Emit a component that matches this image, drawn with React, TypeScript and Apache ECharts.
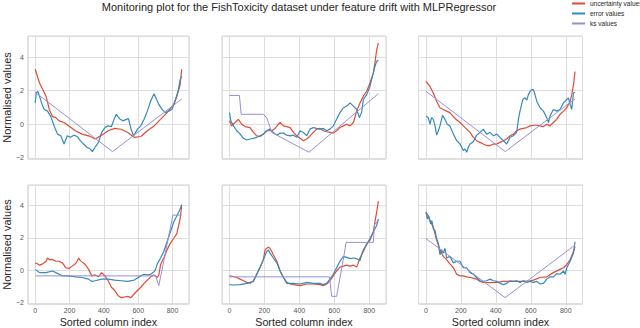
import React, { useEffect, useRef } from 'react';
import * as echarts from 'echarts';

const TITLE = 'Monitoring plot for the FishToxicity dataset under feature drift with MLPRegressor';
const SERIES_NAMES = ['uncertainty values', 'error values', 'ks values'];
const COLORS = ['#E24A33', '#348ABD', '#988ED5'];
const X_LABEL = 'Sorted column index';
const Y_LABEL = 'Normalised values';
const X_MIN = -42.65;
const X_MAX = 895.65;
const Y_MIN = -2.07;
const Y_MAX = 5.25;

type P = [number, number][];

// top-left
const tlUnc: P = [[0,3.27],[25,2.45],[44,2.06],[63,1.67],[82,0.88],[101,0.45],[120,0.39],[139,0.2],[168,0.1],[196,-0.1],[234,-0.39],[272,-0.59],[311,-0.69],[349,-0.88],[387,-0.65],[425,-0.39],[463,-0.25],[501,-0.3],[539,-0.49],[577,-0.78],[615,-0.73],[653,-0.39],[692,-0.1],[730,0.29],[768,0.69],[806,1.18],[825,1.67],[844,2.35],[853,3.27]];
const tlErr: P = [[0,1.27],[6,1.86],[15,1.96],[25,1.67],[40,1.18],[53,0.88],[72,0.78],[91,0.45],[110,-0.1],[130,-0.59],[149,-0.69],[168,-1.18],[187,-0.69],[206,-0.78],[225,-0.65],[244,-0.73],[263,-0.98],[282,-1.18],[301,-1.37],[320,-1.47],[333,-1.63],[349,-1.37],[368,-1.08],[387,-0.49],[406,-0.2],[425,-0.1],[444,-0.14],[463,0.39],[472,0.59],[491,0.33],[511,0.2],[530,0.29],[543,0.33],[558,-0.29],[573,-0.69],[596,-0.29],[615,-0.1],[634,0.29],[653,0.78],[672,1.37],[692,1.82],[707,1.47],[720,1.18],[739,0.88],[758,0.69],[777,0.78],[796,0.88],[815,1.37],[834,2.06],[844,2.65],[853,2.84]];
const tlKs: P = [[0,1.9],[450,-1.63],[853,1.5]];

// top-middle
const tmUnc: P = [[0,0.2],[13,-0.1],[32,0.1],[51,0.29],[70,0],[90,-0.14],[118,-0.2],[137,-0.49],[156,-0.69],[175,-0.73],[194,-0.59],[213,-0.39],[242,-0.39],[261,-0.25],[280,0],[290,0.1],[309,-0.1],[328,-0.14],[347,-0.2],[366,-0.49],[385,-0.69],[404,-0.84],[423,-0.98],[442,-0.88],[461,-0.69],[480,-0.49],[499,-0.29],[518,-0.25],[537,-0.39],[556,-0.45],[575,-0.49],[594,-0.53],[613,-0.39],[632,-0.2],[652,-0.1],[671,0],[690,-0.1],[709,0.1],[728,0.78],[747,1.27],[766,1.67],[785,1.96],[804,2.45],[823,3.04],[832,3.63],[842,4.41],[852,4.84]];
const tmErr: P = [[0,0.69],[8,0.2],[23,-0.1],[42,-0.39],[61,-0.59],[80,-0.84],[99,-0.94],[118,-0.88],[137,-0.84],[156,-0.78],[175,-0.69],[194,-0.59],[213,-0.39],[232,-0.29],[251,-0.49],[271,-0.65],[290,-0.53],[309,-0.53],[328,-0.65],[347,-0.69],[366,-0.65],[385,-0.78],[404,-0.39],[423,-0.49],[442,-0.69],[461,-0.29],[480,-0.2],[499,-0.25],[518,-0.29],[537,-0.25],[556,-0.39],[575,-0.29],[594,-0.1],[613,0.29],[632,0.69],[652,0.98],[671,1.08],[690,1.27],[709,1.08],[728,0.88],[743,0.39],[756,0.69],[766,1.47],[785,1.76],[804,2.25],[813,2.65],[823,3.04],[832,3.43],[842,3.73],[852,3.82]];
const tmKs: P = [[0,1.71],[57,1.71],[67,0.59],[194,0.59],[213,0.39],[223,0.1],[242,-0.5],[271,-0.65],[455,-1.67],[852,1.82]];

// top-right
const trUnc: P = [[0,2.55],[23,2.25],[42,1.86],[61,1.37],[80,0.98],[99,0.88],[118,0.78],[137,0.69],[157,0.45],[176,0.25],[195,0.1],[214,-0.1],[233,-0.29],[252,-0.49],[271,-0.78],[290,-0.98],[309,-1.08],[328,-1.18],[347,-1.27],[367,-1.27],[386,-1.18],[405,-1.18],[424,-1.08],[443,-0.98],[462,-0.88],[481,-0.69],[500,-0.59],[519,-0.39],[538,-0.29],[557,-0.25],[577,-0.2],[596,-0.1],[615,-0.06],[634,-0.06],[653,-0.1],[672,-0.14],[691,0],[710,-0.1],[729,0.1],[748,0.29],[767,0.59],[787,0.78],[806,0.98],[825,1.37],[834,1.76],[844,2.35],[853,3.14]];
const trErr: P = [[0,0.49],[13,0.39],[23,0],[32,0.39],[42,0.29],[52,-0.1],[61,-0.65],[71,-0.39],[80,-0.1],[95,0.53],[109,0.29],[122,0],[137,-0.1],[157,-0.59],[176,-0.98],[195,-1.18],[214,-1.57],[223,-1.47],[233,-1.67],[242,-1.37],[252,-1.18],[271,-1.04],[290,-0.65],[309,-0.49],[328,-0.29],[347,-0.59],[367,-0.49],[386,-0.69],[405,-0.59],[424,-0.78],[443,-0.98],[462,-1.18],[481,-0.78],[500,-0.69],[519,-0.49],[529,0.29],[538,0.78],[554,1.47],[567,1.57],[577,1.43],[586,1.76],[596,1.96],[605,2.06],[615,2.06],[624,1.76],[634,1.37],[653,0.98],[662,0.88],[672,0.78],[691,0.39],[701,0.1],[710,0.49],[729,0.88],[748,0.78],[767,0.88],[787,1.27],[806,1.47],[815,1.57],[825,1.18],[834,0.88],[844,1.86],[853,1.9]];
const trKs: P = [[0,1.96],[454,-1.63],[853,1.51]];

// bottom-left
const blUnc: P = [[0,0.4],[6,0.46],[25,0.32],[44,0.4],[63,0.56],[72,0.76],[82,0.66],[101,0.66],[120,0.56],[139,0.56],[158,0.46],[168,0.32],[177,0.16],[196,0.12],[215,0.26],[234,0.4],[244,0.56],[253,0.76],[263,0.6],[272,0.52],[291,0.36],[311,0.06],[330,-0.34],[349,-0.28],[368,-0.4],[387,-0.14],[406,-0.34],[425,-0.64],[444,-1.04],[463,-1.24],[482,-1.54],[501,-1.68],[520,-1.64],[539,-1.6],[558,-1.68],[577,-1.44],[596,-1.24],[615,-1.04],[634,-0.8],[653,-0.6],[672,-0.4],[692,-0.28],[711,-0.44],[720,-0.3],[730,0.36],[749,0.76],[768,1.26],[787,1.66],[806,1.96],[825,2.26],[844,3.16],[853,3.96]];
const blErr: P = [[0,0.06],[25,-0.14],[63,-0.14],[101,-0.04],[120,-0.14],[139,-0.24],[158,-0.34],[196,-0.34],[234,-0.4],[272,-0.44],[311,-0.54],[330,-0.68],[349,-0.64],[387,-0.54],[425,-0.54],[463,-0.6],[501,-0.64],[539,-0.68],[577,-0.6],[615,-0.34],[634,-0.24],[653,-0.28],[672,-0.24],[692,-0.08],[701,0.06],[711,0.4],[730,0.76],[749,1.16],[768,1.76],[787,2.36],[806,2.96],[825,3.36],[844,3.76],[853,4.06]];
const blKs: P = [[0,-0.34],[701,-0.34],[720,-0.94],[802,3.4],[853,3.4]];

// bottom-middle
const bmUnc: P = [[0,-0.34],[23,-0.38],[42,-0.44],[61,-0.54],[80,-0.64],[99,-0.74],[118,-0.8],[137,-0.64],[156,-0.24],[175,0.16],[194,0.66],[204,1.26],[213,1.36],[223,1.42],[232,1.36],[242,1.16],[251,0.96],[271,0.56],[290,-0.04],[309,-0.44],[328,-0.74],[347,-0.84],[366,-0.88],[404,-0.94],[442,-0.84],[480,-0.84],[518,-0.88],[537,-0.94],[556,-0.84],[575,-0.64],[594,-0.34],[613,-0.04],[632,0.2],[652,0.26],[671,0.32],[690,0.26],[709,0.32],[728,0.2],[747,0.76],[766,1.16],[785,1.6],[804,1.86],[823,2.36],[832,2.96],[842,3.56],[852,4.26]];
const bmErr: P = [[0,-0.88],[23,-0.9],[61,-0.88],[99,-0.8],[137,-0.68],[156,-0.24],[175,0.2],[194,0.66],[213,1.16],[223,1.26],[232,1.06],[251,0.76],[271,0.46],[290,-0.04],[309,-0.44],[328,-0.8],[366,-0.8],[404,-0.84],[442,-0.74],[480,-0.8],[518,-0.8],[537,-0.88],[556,-0.8],[575,-0.54],[594,-0.24],[613,0.16],[632,0.56],[652,0.86],[671,0.8],[690,0.72],[709,0.76],[728,0.72],[747,0.6],[756,0.96],[766,1.26],[785,1.6],[804,1.96],[823,2.36],[842,2.76],[852,3.16]];
const bmKs: P = [[0,-0.4],[572,-0.4],[585,-1.6],[613,-1.6],[655,0.9],[667,1.72],[823,1.72],[830,2.8],[852,3.1]];

// bottom-right
const brUnc: P = [[0,3.6],[13,3.36],[23,3.06],[42,2.66],[61,1.86],[80,1.26],[99,0.86],[118,0.66],[137,0.4],[157,0.16],[176,-0.24],[195,-0.34],[214,-0.34],[233,-0.4],[252,-0.44],[271,-0.48],[290,-0.54],[309,-0.68],[328,-0.74],[367,-0.76],[405,-0.74],[443,-0.68],[481,-0.68],[519,-0.68],[557,-0.68],[596,-0.64],[615,-0.6],[653,-0.44],[691,-0.4],[729,-0.14],[767,0.06],[787,0.16],[806,0.36],[825,0.66],[844,1.16],[853,1.46]];
const brErr: P = [[0,3.56],[8,3.16],[15,3.36],[27,2.86],[34,3.06],[42,2.56],[52,2.46],[61,1.96],[71,1.66],[80,0.96],[90,1.26],[99,1.06],[109,1.36],[118,0.76],[137,0.86],[157,0.46],[176,0.56],[195,0.56],[214,0.16],[233,0.16],[252,-0.14],[271,-0.24],[290,-0.44],[309,-0.64],[328,-0.68],[347,-0.64],[367,-0.54],[386,-0.64],[405,-0.68],[424,-0.8],[443,-0.88],[462,-0.8],[481,-0.64],[500,-0.68],[519,-0.64],[538,-0.74],[557,-0.64],[577,-0.74],[596,-0.68],[615,-0.74],[634,-0.68],[653,-0.84],[672,-0.8],[691,-0.54],[710,-0.4],[729,-0.4],[748,-0.2],[767,-0.24],[787,-0.04],[796,-0.24],[806,0.16],[825,0.56],[844,1.06],[853,1.76]];
const brKs: P = [[0,1.96],[453,-1.68],[853,1.56]];

const PANELS: P[][] = [
  [tlUnc, tlErr, tlKs],
  [tmUnc, tmErr, tmKs],
  [trUnc, trErr, trKs],
  [blUnc, blErr, blKs],
  [bmUnc, bmErr, bmKs],
  [brUnc, brErr, brKs],
];

const FONT = '"Liberation Sans", Arial, sans-serif';
const COL_LEFT = [25, 222, 418.5];
const ROW_TOP = [36, 185];
const GRID_W = 164;
const GRID_H = 123;

export default function App() {
  const ref = useRef<HTMLDivElement>(null);
  useEffect(() => {
    if (!ref.current) return;
    const chart = echarts.init(ref.current, undefined, { renderer: 'svg' });
    const grids: any[] = [];
    const xAxes: any[] = [];
    const yAxes: any[] = [];
    const series: any[] = [];
    PANELS.forEach((panel, i) => {
      const row = Math.floor(i / 3);
      const col = i % 3;
      grids.push({
        left: COL_LEFT[col], top: ROW_TOP[row], width: GRID_W, height: GRID_H,
        show: true, borderColor: '#d0d0d0', borderWidth: 1, backgroundColor: '#fff',
      });
      xAxes.push({
        gridIndex: i, type: 'value', min: X_MIN, max: X_MAX, splitNumber: 5,
        axisLine: { show: false }, axisTick: { show: false },
        splitLine: { show: true, lineStyle: { color: '#dedede', width: 1 } },
        axisLabel: {
          show: row === 1, fontSize: 7, color: '#555', margin: 3, fontFamily: FONT,
          formatter: (v: number) => (Math.abs(v % 200) < 1e-6 ? String(v) : ''),
        },
        name: row === 1 ? X_LABEL : '', nameLocation: 'middle', nameGap: 12,
        nameTextStyle: { fontSize: 10.7, color: '#262626', fontFamily: FONT, verticalAlign: 'top' },
      });
      yAxes.push({
        gridIndex: i, type: 'value', min: Y_MIN, max: Y_MAX, splitNumber: 4,
        axisLine: { show: false }, axisTick: { show: false },
        splitLine: { show: true, lineStyle: { color: '#dedede', width: 1 } },
        axisLabel: {
          show: col === 0, fontSize: 7, color: '#555', margin: 4, fontFamily: FONT,
          formatter: (v: number) => (Math.abs(v % 2) < 1e-6 ? String(v).replace('-', '\u2212') : ''),
        },
        name: col === 0 ? Y_LABEL : '', nameLocation: 'middle', nameGap: 15,
        nameTextStyle: { fontSize: 11, color: '#262626', fontFamily: FONT },
      });
      panel.forEach((data, k) => {
        series.push({
          name: SERIES_NAMES[k], type: 'line', xAxisIndex: i, yAxisIndex: i,
          data, symbol: 'none', showSymbol: false,
          lineStyle: { color: COLORS[k], width: k === 2 ? 1 : 1.2 },
          itemStyle: { color: COLORS[k] },
          z: 2 + k,
        });
      });
    });
    chart.setOption({
      animation: false,
      backgroundColor: '#fff',
      grid: grids,
      xAxis: xAxes,
      yAxis: yAxes,
      series,
      legend: {
        orient: 'vertical', left: 572, top: 0, padding: 0,
        icon: 'rect', itemWidth: 13, itemHeight: 2, itemGap: 3,
        data: SERIES_NAMES,
        textStyle: { fontSize: 6.5, color: '#262626', fontFamily: FONT, padding: [0, 0, 0, 0], lineHeight: 7 },
      },
      graphic: [
        {
          type: 'text', x: 299, y: 7,
          style: { text: TITLE, textAlign: 'center', textVerticalAlign: 'middle', fontSize: 11, fill: '#262626', fontFamily: FONT },
        },
      ],
    });
    return () => chart.dispose();
  }, []);
  return (
    <div style={{ position: 'absolute', left: 0, top: 0, width: 640, height: 328, background: '#fff' }}>
      <div ref={ref} style={{ width: 640, height: 328 }} />
    </div>
  );
}
